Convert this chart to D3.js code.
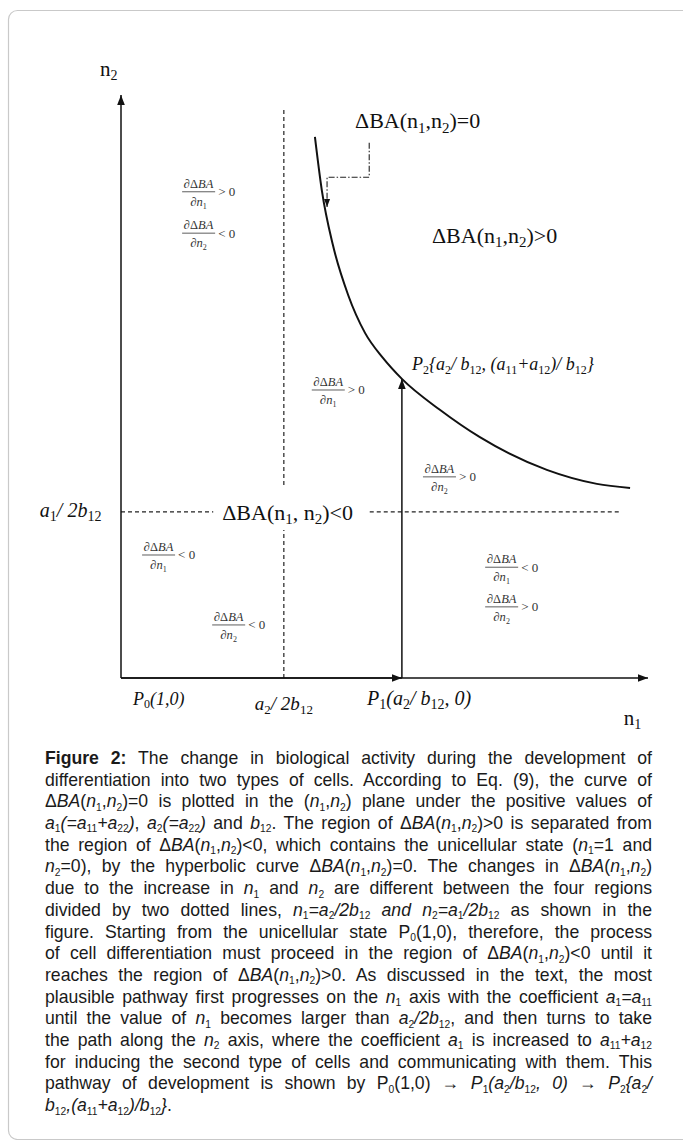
<!DOCTYPE html>
<html>
<head>
<meta charset="utf-8">
<script src="https://cdn.jsdelivr.net/npm/d3@7"></script>
<style>
  body { margin: 0; background: #fff; }
</style>
</head>
<body>
<div id="chart"></div>
<script>
// Figure units: n1 and n2 both run 0..100 along the drawn axes.
// Curve ΔBA(n1,n2)=0, points
const curveN1 = [36.8, 38.1, 40.2, 43.1, 46.3, 49.7, 53.3, 60.5, 68.1, 80.8, 90.3, 96.6];
const curveN2 = [92.8, 83.7, 74.3, 65.7, 59.2, 54.9, 51.3, 46.0, 41.3, 35.7, 33.3, 32.6];

const splitN1 = 30.9;              // dotted line n1 = a2/2b12
const splitN2 = 28.5;              // dotted line n2 = a1/2b12
const splitN1Top = 97.8;
const splitN1Gap = [25.4, 33.1];   // gap around the centre label
const splitN2End = 94.7;
const splitN2Gap = [17.5, 47.2];
const p1N1 = 53.3;                 // P1(a2/b12, 0)
const p2N2 = 51.3;                 // P2 on the curve
const pointerN1 = [47.1, 47.1, 39.1, 39.1];
const pointerN2 = [91.8, 85.9, 85.9, 80.8];

// partial-derivative signs in the four regions
const fracDenom = [1, 2, 1, 2, 1, 2, 1, 2];
const fracSign = ['>', '<', '>', '>', '<', '<', '<', '>'];
const fracN1 = [11.6, 11.6, 36.2, 57.3, 4.0, 17.3, 69.1, 69.1];
const fracN2 = [83.4, 76.3, 49.4, 34.5, 21.1, 9.1, 19.0, 12.2];

const labelText = [
  'n_{2}', 'n_{1}',
  'ΔBA(n_{1},n_{2})=0', 'ΔBA(n_{1},n_{2})>0', 'ΔBA(n_{1}, n_{2})<0',
  '<i>a</i>_{1}<i>/ 2b</i>_{12}', '<i>P</i>_{0}<i>(1,0)</i>', '<i>a</i>_{2}<i>/ 2b</i>_{12}',
  '<i>P</i>_{1}<i>(a</i>_{2}<i>/ b</i>_{12}<i>, 0)</i>',
  '<i>P</i>_{2}<i>{a</i>_{2}<i>/ b</i>_{12}<i>, (a</i>_{11}<i>+a</i>_{12}<i>)/ b</i>_{12}<i>}</i>'
];
const labelN1 = [-4.0, 95.4, 44.4, 59.0, 19.2, -15.4, 2.3, 25.4, 46.7, 55.2];
const labelN2 = [103.3, -8.1, 94.3, 74.6, 27.1, 27.6, -4.6, -5.5, -4.6, 52.8];
const labelSize = [21, 21, 22, 22, 22, 20, 18, 19, 20, 18];

const captionLines = [
  '<b>Figure 2:</b> The change in biological activity during the development of',
  'differentiation into two types of cells. According to Eq. (9), the curve of',
  'Δ<i>BA</i>(<i>n</i>_{1},<i>n</i>_{2})=0 is plotted in the (<i>n</i>_{1},<i>n</i>_{2}) plane under the positive values of',
  '<i>a</i>_{1}<i>(=a</i>_{11}<i>+a</i>_{22}<i>)</i>, <i>a</i>_{2}<i>(=a</i>_{22}<i>)</i> and <i>b</i>_{12}. The region of Δ<i>BA</i>(<i>n</i>_{1},<i>n</i>_{2})>0 is separated from',
  'the region of Δ<i>BA</i>(<i>n</i>_{1},<i>n</i>_{2})<0, which contains the unicellular state (<i>n</i>_{1}=1 and',
  '<i>n</i>_{2}=0), by the hyperbolic curve Δ<i>BA</i>(<i>n</i>_{1},<i>n</i>_{2})=0. The changes in Δ<i>BA</i>(<i>n</i>_{1},<i>n</i>_{2})',
  'due to the increase in <i>n</i>_{1} and <i>n</i>_{2} are different between the four regions',
  'divided by two dotted lines, <i>n</i>_{1}<i>=a</i>_{2}<i>/2b</i>_{12}<i> and n</i>_{2}<i>=a</i>_{1}<i>/2b</i>_{12} as shown in the',
  'figure. Starting from the unicellular state P_{0}(1,0), therefore, the process',
  'of cell differentiation must proceed in the region of Δ<i>BA</i>(<i>n</i>_{1},<i>n</i>_{2})<0 until it',
  'reaches the region of Δ<i>BA</i>(<i>n</i>_{1},<i>n</i>_{2})>0. As discussed in the text, the most',
  'plausible pathway first progresses on the <i>n</i>_{1} axis with the coefficient <i>a</i>_{1}<i>=a</i>_{11}',
  'until the value of <i>n</i>_{1} becomes larger than <i>a</i>_{2}<i>/2b</i>_{12}, and then turns to take',
  'the path along the <i>n</i>_{2} axis, where the coefficient <i>a</i>_{1} is increased to <i>a</i>_{11}<i>+a</i>_{12}',
  'for inducing the second type of cells and communicating with them. This',
  'pathway of development is shown by P_{0}(1,0) → <i>P</i>_{1}<i>(a</i>_{2}<i>/b</i>_{12}<i>, 0)</i> → <i>P</i>_{2}<i>{a</i>_{2}<i>/</i>',
  '<i>b</i>_{12}<i>,(a</i>_{11}<i>+a</i>_{12}<i>)/b</i>_{12}<i>}</i>.'
];

const W = 683, H = 1140;
const serif = '"Liberation Serif", "DejaVu Serif", serif';
const sans = '"Liberation Sans", Arial, sans-serif';

const svg = d3.select('#chart').append('svg')
  .attr('width', W)
  .attr('height', H);

// card frame
svg.append('rect')
  .attr('x', 8.5).attr('y', 10.5)
  .attr('width', 700).attr('height', 1129)
  .attr('rx', 9)
  .attr('fill', '#fff')
  .attr('stroke', '#c9c9c9')
  .attr('stroke-width', 1.2);

const x = d3.scaleLinear().domain([0, 100]).range([121, 648]);
const y = d3.scaleLinear().domain([0, 100]).range([678, 95]);

const defs = svg.append('defs');
function marker(id, size) {
  defs.append('marker')
    .attr('id', id)
    .attr('viewBox', '0 0 10 10')
    .attr('refX', 10).attr('refY', 5)
    .attr('markerWidth', size).attr('markerHeight', size)
    .attr('markerUnits', 'userSpaceOnUse')
    .attr('orient', 'auto')
    .append('path')
    .attr('d', 'M0,1.2L10,5L0,8.8Z')
    .attr('fill', '#111');
}
marker('arr', 10);
marker('arrSmall', 8);

// small helper for text with italics / bold / subscripts
function rich(sel, str, subSize, subDy) {
  const parts = str.split(/(<\/?[bi]>|_\{[^}]*\})/).filter(s => s !== '');
  let bold = false, ital = false, shift = 0;
  parts.forEach(p => {
    if (p === '<b>') { bold = true; return; }
    if (p === '</b>') { bold = false; return; }
    if (p === '<i>') { ital = true; return; }
    if (p === '</i>') { ital = false; return; }
    const sub = p.startsWith('_{');
    const want = sub ? subDy : 0;
    const ts = sel.append('tspan')
      .text(sub ? p.slice(2, -1) : p)
      .attr('dy', want - shift)
      .style('font-style', ital ? 'italic' : 'normal')
      .style('font-weight', bold ? 'bold' : 'normal');
    if (sub) ts.style('font-size', subSize + 'px');
    shift = want;
  });
}

const line = d3.line().x(d => x(d[0])).y(d => y(d[1]));
const g = svg.append('g');

// dotted split lines
const dash = '4,3';
[[splitN1Gap[1], splitN1Top], [0, splitN1Gap[0]]].forEach(r => {
  g.append('path')
    .attr('d', line([[splitN1, r[0]], [splitN1, r[1]]]))
    .attr('stroke', '#222').attr('stroke-width', 1.2)
    .attr('stroke-dasharray', dash).attr('fill', 'none');
});
[[0, splitN2Gap[0]], [splitN2Gap[1], splitN2End]].forEach(r => {
  g.append('path')
    .attr('d', line([[r[0], splitN2], [r[1], splitN2]]))
    .attr('stroke', '#222').attr('stroke-width', 1.2)
    .attr('stroke-dasharray', dash).attr('fill', 'none');
});

// axes
g.append('path')
  .attr('d', line([[0, 0], [0, 100]]))
  .attr('stroke', '#111').attr('stroke-width', 1.5)
  .attr('marker-end', 'url(#arr)');
g.append('path')
  .attr('d', line([[0, 0], [100, 0]]))
  .attr('stroke', '#111').attr('stroke-width', 1.5)
  .attr('marker-end', 'url(#arr)');
// pathway P0 -> P1 -> P2
g.append('path')
  .attr('d', line([[0, 0], [p1N1, 0]]))
  .attr('stroke', '#111').attr('stroke-width', 1.5)
  .attr('marker-end', 'url(#arr)');
g.append('path')
  .attr('d', line([[p1N1, 0], [p1N1, p2N2]]))
  .attr('stroke', '#111').attr('stroke-width', 1.5)
  .attr('marker-end', 'url(#arr)');

// hyperbolic curve
const curvePts = curveN1.map((v, i) => [v, curveN2[i]]);
g.append('path')
  .attr('d', d3.line().curve(d3.curveMonotoneX).x(d => x(d[0])).y(d => y(d[1]))(curvePts))
  .attr('stroke', '#111').attr('stroke-width', 2)
  .attr('fill', 'none');

// dash-dot pointer from the curve label
g.append('path')
  .attr('d', line(pointerN1.map((v, i) => [v, pointerN2[i]])))
  .attr('stroke', '#222').attr('stroke-width', 1.1)
  .attr('stroke-dasharray', '6,2,1.5,2')
  .attr('fill', 'none')
  .attr('marker-end', 'url(#arrSmall)');

// labels
labelText.forEach((t, i) => {
  const s = labelSize[i];
  const txt = g.append('text')
    .attr('x', x(labelN1[i]))
    .attr('y', y(labelN2[i]))
    .style('font-family', serif)
    .style('font-size', s + 'px')
    .attr('fill', '#111');
  rich(txt, t, Math.round(s * 0.68), s * 0.2);
});

// partial derivative fractions
fracDenom.forEach((d, i) => {
  const bx = x(fracN1[i]), by = y(fracN2[i]);
  const fg = g.append('g').style('font-family', serif).attr('fill', '#333');
  fg.append('line')
    .attr('x1', bx).attr('x2', bx + 33)
    .attr('y1', by).attr('y2', by)
    .attr('stroke', '#333').attr('stroke-width', 0.8);
  const num = fg.append('text')
    .attr('x', bx + 16.5).attr('y', by - 4)
    .attr('text-anchor', 'middle')
    .style('font-size', '12.5px');
  rich(num, '<i>∂</i>Δ<i>BA</i>', 9, 3);
  const den = fg.append('text')
    .attr('x', bx + 16.5).attr('y', by + 14)
    .attr('text-anchor', 'middle')
    .style('font-size', '12.5px');
  rich(den, '<i>∂n</i>_{' + d + '}', 8, 3);
  fg.append('text')
    .attr('x', bx + 36).attr('y', by + 4.5)
    .style('font-size', '13px')
    .text(fracSign[i] + ' 0');
});

// caption, justified line by line with word spacing
const capLeft = 45, capRight = 652, sx = 0.98;
const capTop = 764, capStep = 21.7;
const cap = svg.append('g')
  .attr('transform', `translate(${capLeft},0) scale(${sx},1)`)
  .style('font-family', sans)
  .style('font-size', '18px')
  .attr('fill', '#1a1a1a');
captionLines.forEach((l, i) => {
  const t = cap.append('text')
    .attr('x', 0)
    .attr('y', capTop + i * capStep);
  rich(t, l, 10.5, 3.4);
  if (i < captionLines.length - 1) {
    const natural = t.node().getComputedTextLength();
    const spaces = (t.text().match(/ /g) || []).length;
    const target = (capRight - capLeft) / sx;
    if (spaces > 0) t.style('word-spacing', ((target - natural) / spaces) + 'px');
  }
});
</script>
</body>
</html>
